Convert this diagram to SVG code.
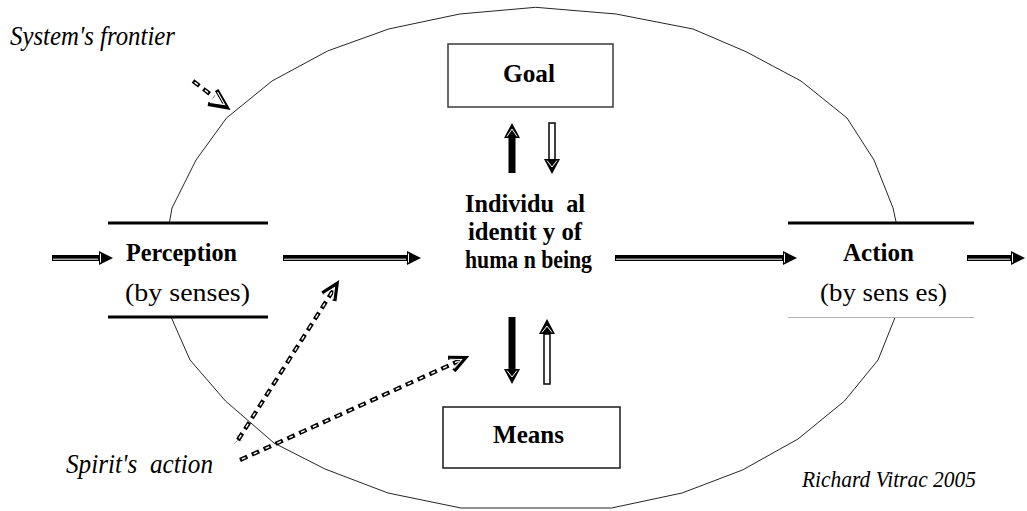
<svg xmlns="http://www.w3.org/2000/svg" width="1027" height="511" viewBox="0 0 1027 511">
  <defs>
    <style>
      .serif{font-family:"Liberation Serif","Times New Roman",serif;fill:#000}
      .b{font-weight:bold}
      .it{font-style:italic}
      .frontier{fill:none;stroke:#262626;stroke-width:1}
      .box{fill:#fff;stroke:#3a3a3a;stroke-width:1.5}
      .band{fill:#fff;stroke:none}
      .bar{stroke:#000;stroke-width:3}
      .bar-light{stroke:#b4b4b4;stroke-width:1}
      .blk{fill:#000}
      .hl{stroke:#fff;stroke-width:1;fill:none}
      .thin{fill:#fff;stroke:#111;stroke-width:1.6}
      .dash{fill:none;stroke:#000;stroke-width:4.2;stroke-dasharray:8 5}
      .dash-core{fill:none;stroke:#fff;stroke-width:1.4;stroke-dasharray:4 9;stroke-dashoffset:-2}
      .head{fill:none;stroke:#000;stroke-width:4;stroke-linejoin:miter;stroke-linecap:butt}
      .head-core{fill:none;stroke:#fff;stroke-width:1.1}
      .tail{fill:none;stroke:#9a9a9a;stroke-width:0.8}
    </style>
  </defs>
  <rect width="1027" height="511" fill="#fff"/>

  <!-- system boundary -->
  <g id="frontier">
    <polygon class="frontier" points="535.7,7.3 616,14 693,29 746,51.7 801,81 847,118 874,160 893,208 904,258 898,310 878,360 844.5,401 798,439 742.5,470 682,493 611.5,508 461,508 388,493 325,469 274,443 225.5,401 190,360 168,310 163,258 172,208 196,160 226.5,118 272,81 327.5,51 388.6,29 459.7,14"/>
  </g>

  <g id="goal">
    <rect class="box" x="448" y="44" width="165" height="63"/>
    <text class="serif b" x="503" y="82" font-size="26" textLength="52" lengthAdjust="spacingAndGlyphs">Goal</text>
  </g>

  <g id="means">
    <rect class="box" x="443" y="407" width="177" height="61" style="stroke:#1a1a1a"/>
    <text class="serif b" x="493" y="443" font-size="26" textLength="71" lengthAdjust="spacingAndGlyphs">Means</text>
  </g>

  <g id="perception">
    <rect class="band" x="108" y="223" width="160" height="94"/>
    <line class="bar" x1="108" y1="223" x2="268" y2="223"/>
    <line class="bar" x1="108" y1="317" x2="268" y2="317"/>
    <text class="serif b" x="126" y="261" font-size="26" textLength="111" lengthAdjust="spacingAndGlyphs">Perception</text>
    <text class="serif" x="125" y="301" font-size="26" textLength="125" lengthAdjust="spacingAndGlyphs">(by senses)</text>
  </g>

  <g id="identity">
    <text class="serif b" x="465" y="212" font-size="25" textLength="120" lengthAdjust="spacingAndGlyphs" xml:space="preserve">Individu  al</text>
    <text class="serif b" x="468" y="240" font-size="25" textLength="114" lengthAdjust="spacingAndGlyphs" xml:space="preserve">identit y of</text>
    <text class="serif b" x="465" y="268" font-size="25" textLength="127" lengthAdjust="spacingAndGlyphs" xml:space="preserve">huma n being</text>
  </g>

  <g id="action">
    <rect class="band" x="788" y="223" width="186" height="94"/>
    <line class="bar" x1="788" y1="223" x2="974" y2="223"/>
    <line class="bar-light" x1="788" y1="317.5" x2="974" y2="317.5"/>
    <text class="serif b" x="843" y="261" font-size="26" textLength="71" lengthAdjust="spacingAndGlyphs">Action</text>
    <text class="serif" x="820" y="301" font-size="26" textLength="127" lengthAdjust="spacingAndGlyphs" xml:space="preserve">(by sens es)</text>
  </g>

  <g id="labels">
    <text class="serif it" x="10" y="45" font-size="26.5" textLength="165" lengthAdjust="spacingAndGlyphs">System's frontier</text>
    <text class="serif it" x="66" y="473" font-size="27" textLength="147" lengthAdjust="spacingAndGlyphs" xml:space="preserve">Spirit's  action</text>
    <text class="serif it" x="802" y="487" font-size="22.5" textLength="174" lengthAdjust="spacingAndGlyphs">Richard Vitrac 2005</text>
  </g>

  <g id="connectors">
    <!-- horizontal flow arrows -->
    <path class="blk" d="M52,255 H99 V251 L113,258 L99,265 V261 H52 Z"/>
    <path class="hl" d="M53,259.2 H98 M100.5,253.5 V262.5"/>
    <path class="blk" d="M283,255 H407 V251 L421,258 L407,265 V261 H283 Z"/>
    <path class="hl" d="M284,259.2 H406 M408.5,253.5 V262.5"/>
    <path class="blk" d="M615,255 H783 V251 L797,258 L783,265 V261 H615 Z"/>
    <path class="hl" d="M616,259.2 H782 M784.5,253.5 V262.5"/>
    <path class="blk" d="M967,255 H1011 V251 L1025,258 L1011,265 V261 H967 Z"/>
    <path class="hl" d="M968,259.2 H1010 M1012.5,253.5 V262.5"/>

    <!-- identity <-> goal -->
    <path class="blk" d="M508.5,173 V138 H504 L512,123 L520,138 H515.5 V173 Z"/>
    <path class="hl" d="M507,136.5 L512,129 L517,136.5"/>
    <rect class="thin" x="549" y="123" width="6" height="37"/>
    <path class="blk" d="M544,159 L560,159 L552,174 Z"/>
    <path class="hl" d="M547,160.5 L552,167 L557,160.5"/>

    <!-- identity <-> means -->
    <path class="blk" d="M508.5,317 V369 H504 L512,384 L520,369 H515.5 V317 Z"/>
    <path class="hl" d="M507,370.5 L512,377 L517,370.5"/>
    <rect class="thin" x="544" y="334" width="6" height="50"/>
    <path class="blk" d="M539,334 L555,334 L547,319 Z"/>
    <path class="hl" d="M542,332.5 L547,326 L552,332.5"/>

    <!-- dashed pointer to the frontier -->
    <path class="dash" d="M193,81 L214,97"/>
    <path class="dash-core" d="M193,81 L214,97"/>
    <path class="head" d="M216.7,90 L226.7,107.3 L208,104"/>
    <path class="head-core" d="M217.5,92 L224.5,104.5 L210,102.5"/>

    <!-- spirit's action, towards perception -->
    <path class="tail" d="M234,444 L238,440 L237,435 M238,440 L242,441"/>
    <path class="dash" d="M238,440 L334,289"/>
    <path class="dash-core" d="M238,440 L334,289"/>
    <path class="head" d="M322.4,293.1 L336.7,284 L334.5,300.9"/>
    <path class="head-core" d="M323.5,294.5 L334.5,287.5 L333,299.5"/>

    <!-- spirit's action, towards identity -->
    <path class="dash" d="M240,460 L462,359.5"/>
    <path class="dash-core" d="M240,460 L462,359.5"/>
    <path class="head" d="M448,357.8 L465,358 L453.9,370.9"/>
    <path class="head-core" d="M449.5,359.3 L461.5,359.5 L454,368.5"/>
  </g>
</svg>
